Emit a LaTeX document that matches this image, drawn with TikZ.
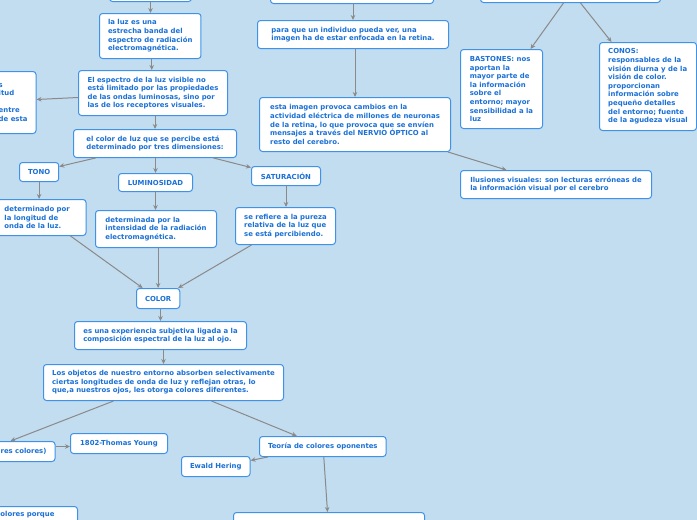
\documentclass[tikz,border=0pt]{standalone}
\usepackage{fontspec}
\setmainfont{DejaVu Sans}
\usetikzlibrary{arrows.meta}
\definecolor{fondo}{RGB}{194,221,240}
\definecolor{borde}{RGB}{62,146,232}
\definecolor{letra}{RGB}{26,112,214}
\definecolor{flecha}{RGB}{138,138,138}

\begin{document}
\begin{tikzpicture}[x=1pt, y=-1pt,
    box/.style={rectangle, draw=borde, fill=white, line width=1pt, rounded corners=3pt,
        align=left, anchor=north west, inner xsep=8.5pt, inner ysep=2pt, text=letra,
        font=\bfseries\fontsize{6.9}{8.6}\selectfont},
    tag/.style={box, align=center},
    arrow/.style={-{Stealth[length=5pt, width=4.5pt]}, line width=1pt, draw=flecha}
]
    \useasboundingbox (0,0) rectangle (697,520);
    \fill[fondo] (0,0) rectangle (697,520);
    \clip (0,0) rectangle (697,520);

    % left column
    \node[tag, minimum width=82pt, minimum height=26pt] (raiz) at (109,-25) {};
    \node[box, minimum width=101pt, minimum height=45pt] (banda) at (99,13) {la luz es una\\estrecha banda del\\espectro de radiación\\electromagnética.};
    \node[box, minimum width=149pt, minimum height=45pt] (espectro) at (78,70) {El espectro de la luz visible no\\está limitado por las propiedades\\de las ondas luminosas, sino por\\las de los receptores visuales.};
    \node[box, anchor=north east, minimum height=62pt] (corte) at (36.5,71) {s\\itud\\\mbox{}\\entre\\de esta};
    \node[box, minimum width=163pt, minimum height=28pt] (dims) at (73,129) {el color de luz que se percibe está\\determinado por tres dimensiones:};
    \node[tag, minimum width=39pt, minimum height=19pt] (tono) at (19,162) {TONO};
    \node[tag, minimum width=74pt, minimum height=18pt] (lumin) at (118,173) {LUMINOSIDAD};
    \node[tag, minimum width=69pt, minimum height=19pt] (satur) at (251,166) {SATURACIÓN};
    \node[box, text width=73pt, minimum height=36pt] (longitud) at (-4.5,199) {determinado por\\la longitud de\\onda de la luz.};
    \node[box, minimum width=121pt, minimum height=37pt] (intens) at (95,210) {determinada por la\\intensidad de la radiación\\electromagnética.};
    \node[box, minimum width=100pt, minimum height=37pt] (pureza) at (235,207) {se refiere a la pureza\\relativa de la luz que\\se está percibiendo.};
    \node[tag, minimum width=43pt, minimum height=20pt] (color) at (136,288) {COLOR};
    \node[box, minimum width=172pt, minimum height=28pt] (subj) at (74,321) {es una experiencia subjetiva ligada a la\\composición espectral de la luz al ojo.};
    \node[box, minimum width=240pt, minimum height=36pt] (objetos) at (43,364) {Los objetos de nuestro entorno absorben selectivamente\\ciertas longitudes de onda de luz y reflejan otras, lo\\que,a nuestros ojos, les otorga colores diferentes.};
    \node[box, anchor=north east, minimum height=20pt] (trescol) at (55.5,441) {res colores)};
    \node[tag, minimum width=97pt, minimum height=20pt] (young) at (70,433) {1802-Thomas Young};
    \node[tag, minimum width=126pt, minimum height=20pt] (teoria) at (259,436) {Teoría de colores oponentes};
    \node[tag, minimum width=68pt, minimum height=20pt] (hering) at (181,456) {Ewald Hering};
    \node[tag, minimum width=191pt, minimum height=30pt] (abajo) at (233,512) {};
    \node[box, text width=68.5pt, minimum height=17pt] (porque) at (-8.5,506) {olores porque};

    % right column
    \node[tag, minimum width=163pt, minimum height=28pt] (vision) at (270,-25) {};
    \node[box, minimum width=191pt, minimum height=28pt] (para) at (257,20) {para que un individuo pueda ver, una\\imagen ha de estar enfocada en la retina.};
    \node[box, minimum width=191pt, minimum height=54pt] (imagen) at (259,97) {esta imagen provoca cambios en la\\actividad eléctrica de millones de neuronas\\de la retina, lo que provoca que se envíen\\mensajes a través del NERVIO ÓPTICO al\\resto del cerebro.};
    \node[box, minimum width=191pt, minimum height=28pt] (ilus) at (460,170) {Ilusiones visuales: son lecturas erróneas de\\la información visual por el cerebro};
    \node[tag, minimum width=180pt, minimum height=27pt] (retina) at (480,-25) {};
    \node[box, minimum width=82pt, minimum height=79pt] (bast) at (460,49) {BASTONES: nos\\aportan la\\mayor parte de\\la información\\sobre el\\entorno; mayor\\sensibilidad a la\\luz};
    \node[box, minimum width=97pt, minimum height=88pt] (conos) at (599,42) {CONOS:\\responsables de la\\visión diurna y de la\\visión de color.\\proporcionan\\información sobre\\pequeño detalles\\del entorno; fuente\\de la agudeza visual};

    \draw[arrow] (raiz.south) -- (raiz.south |- banda.north);
    \draw[arrow] ([xshift=1.5pt]banda.south) -- ([xshift=1.5pt]banda.south |- espectro.north);
    \draw[arrow] ([yshift=-4.5pt]espectro.west) -- ([yshift=3pt]corte.east);
    \draw[arrow] (dims.north |- espectro.south) -- (dims.north);
    \draw[arrow] ([xshift=-59.5pt]dims.south) -- ([yshift=5.5pt]tono.east);
    \draw[arrow] (lumin.north |- dims.south) -- (lumin.north);
    \draw[arrow] ([xshift=58.5pt]dims.south) -- ([yshift=8.5pt]satur.west);
    \draw[arrow] (tono.south) -- (tono.south |- longitud.north);
    \draw[arrow] (lumin.south) -- (lumin.south |- intens.north);
    \draw[arrow] (satur.south) -- (satur.south |- pureza.north);
    \draw[arrow] ([xshift=29.5pt]longitud.south) -- ([xshift=-15.5pt]color.north);
    \draw[arrow] (color.north |- intens.south) -- (color.north);
    \draw[arrow] ([xshift=-34pt]pureza.south) -- ([xshift=20pt]color.north);
    \draw[arrow] (subj.north |- color.south) -- (subj.north);
    \draw[arrow] (objetos.north |- subj.south) -- (objetos.north);
    \draw[arrow] ([xshift=-50pt]objetos.south) -- ([xshift=-45pt]trescol.north east);
    \draw[arrow] ([xshift=48pt]objetos.south) -- ([xshift=-26pt]teoria.north);
    \draw[arrow] ([yshift=5pt]trescol.east) -- ([yshift=5pt]trescol.east -| young.west);
    \draw[arrow] ([xshift=-55pt]teoria.south) -- ([yshift=6pt]hering.east);
    \draw[arrow] ([xshift=1pt]teoria.south) -- ([xshift=-1.5pt]abajo.north);
    \draw[arrow] (para.north |- vision.south) -- (para.north);
    \draw[arrow] (imagen.north |- para.south) -- (imagen.north);
    \draw[arrow] ([xshift=-3pt]imagen.south east) -- ([xshift=-49.5pt]ilus.north);
    \draw[arrow] ([xshift=-7pt]retina.south) -- ([xshift=29pt]bast.north);
    \draw[arrow] ([xshift=10pt]retina.south) -- ([xshift=-36.5pt]conos.north);
\end{tikzpicture}
\end{document}
